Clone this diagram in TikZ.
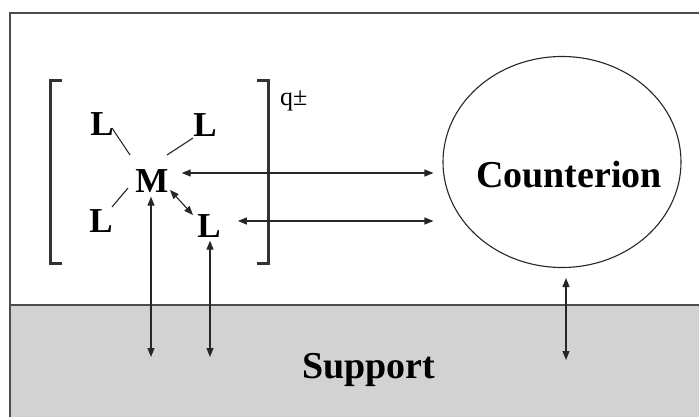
\documentclass[tikz,border=0pt]{standalone}
\usepackage{fontspec}
\setmainfont{Liberation Serif}
\usetikzlibrary{arrows.meta,shapes.geometric,calc}
\begin{document}
\begin{tikzpicture}[x=1pt,y=-1pt,
  tip/.tip={Triangle[length=9pt,width=7pt]},
  dbl/.style={{tip}-{tip}, line width=1.1pt, black!85},
  bond/.style={line width=1.1pt, black!85},
  atom/.style={font=\fontsize{35}{35}\selectfont\bfseries, inner sep=0pt},
  bracket/.style={line width=3pt, black!80},
  frame/.style={line width=2.8pt, black!70}]
  \useasboundingbox (0,0) rectangle (699,417);
  % support layer
  \fill[gray!35] (10,305) rectangle (702,420);
  \draw[frame] (10,305) -- (702,305);
  \draw[frame] (10,420) -- (10,13) -- (702,13);

  % complex brackets and charge
  \draw[bracket] (62,81) -- (50,81) -- (50,263) -- (62,263);
  \draw[bracket] (257,81) -- (268,81) -- (268,263) -- (257,263);
  \node[font=\fontsize{26}{26}\selectfont, inner sep=0pt, anchor=base west] (q) at (280,106) {q±};

  % metal centre and ligands
  \node[atom] (M)  at (152,181) {M};
  \node[atom] (L1) at (102,124) {L};
  \node[atom] (L2) at (205,125) {L};
  \node[atom] (L3) at (101,221) {L};
  \node[atom] (L4) at (209,226) {L};
  \draw[bond] ($(L1)+(10,4)$) -- ($(M)+(-22,-26)$);
  \draw[bond] ($(L2)+(-12,13)$) -- ($(M)+(15,-26)$);
  \draw[bond] ($(L3)+(11,-14)$) -- ($(M)+(-24,7)$);
  \draw[dbl] ($(M)+(18,9)$) -- ($(L4)+(-16,-11)$);

  % counterion
  \node[ellipse, draw, line width=1.1pt, black!85, minimum width=238pt, minimum height=211pt] (C) at (562,162) {};
  \node[font=\fontsize{38}{38}\selectfont\bfseries, inner sep=0pt, anchor=base] (Ct) at (569,187) {Counterion};
  \node[font=\fontsize{38}{38}\selectfont\bfseries, inner sep=0pt, anchor=base] (S) at (369,378) {Support};

  % exchange arrows
  \coordinate (sM) at (151,357);
  \coordinate (sL) at (210,357);
  \coordinate (sC) at (566,360);
  \draw[dbl] ($(M.east)+(13,-8)$) -- ($(C.west)+(-9,11)$);
  \draw[dbl] ($(L4.east)+(17,-5)$) -- ($(C.west)+(-9,59)$);
  \draw[dbl] ($(M.south)+(-1,4)$) -- (sM);
  \draw[dbl] ($(L4.south)+(1,3)$) -- (sL);
  \draw[dbl] ($(C.south)+(4,10)$) -- (sC);
\end{tikzpicture}
\end{document}
